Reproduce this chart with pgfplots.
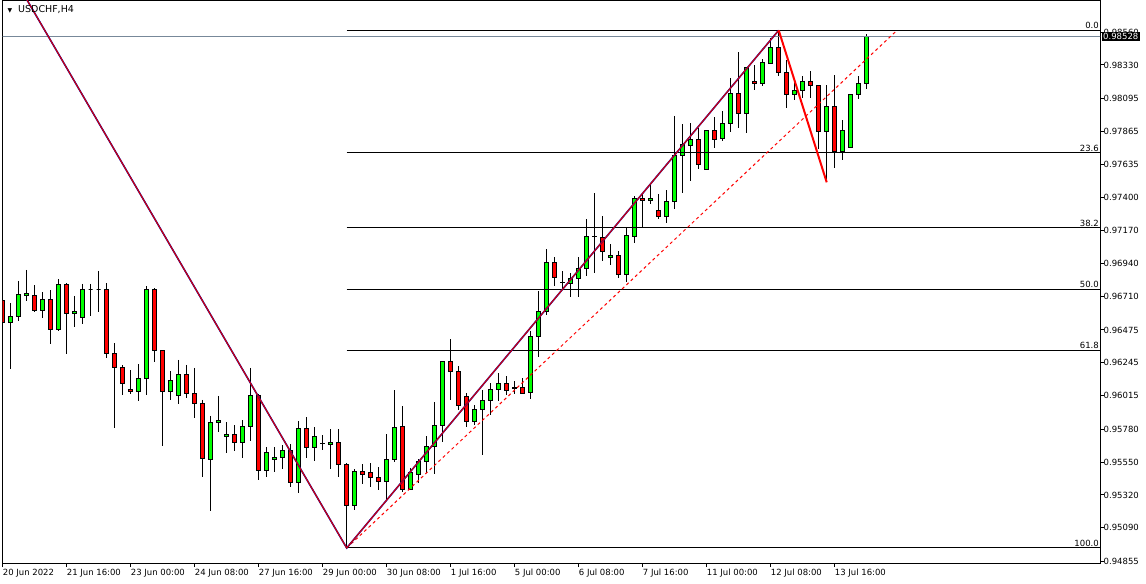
\documentclass[border=0pt]{standalone}
\usepackage{fontspec}
\setmainfont{DejaVu Sans}
\usepackage{pgfplots}
\pgfplotsset{compat=1.18}
\usepackage{pgfplotstable}
\definecolor{cgreen}{RGB}{0,255,0}
\definecolor{cred}{RGB}{255,0,0}
\definecolor{bidgrey}{RGB}{119,136,153}
\definecolor{zzblue}{RGB}{0,0,170}
\definecolor{zzred}{RGB}{220,0,0}
\newcommand\tf{\fontsize{8.5bp}{10bp}\selectfont}

\pgfplotstableread{
k o h l c
0 0.96683 0.96720 0.96421 0.96529
1 0.96529 0.96664 0.96204 0.96571
2 0.96571 0.96818 0.96540 0.96725
3 0.96715 0.96895 0.96680 0.96732
4 0.96718 0.96788 0.96603 0.96613
5 0.96613 0.96739 0.96561 0.96690
6 0.96690 0.96753 0.96379 0.96480
7 0.96480 0.96830 0.96470 0.96795
8 0.96795 0.96802 0.96309 0.96592
9 0.96592 0.96713 0.96498 0.96606
10 0.96564 0.96797 0.96515 0.96760
11 0.96760 0.96797 0.96571 0.96760
12 0.96760 0.96888 0.96603 0.96760
13 0.96760 0.96802 0.96281 0.96312
14 0.96312 0.96382 0.95791 0.96214
15 0.96214 0.96228 0.96018 0.96102
16 0.96060 0.96193 0.96025 0.96046
17 0.96046 0.96235 0.95976 0.96137
18 0.96137 0.96781 0.96022 0.96760
19 0.96760 0.96767 0.96253 0.96333
20 0.96333 0.96333 0.95665 0.96046
21 0.96046 0.96186 0.95983 0.96123
22 0.96013 0.96265 0.95955 0.96165
23 0.96165 0.96230 0.95997 0.96032
24 0.96032 0.96209 0.95857 0.95962
25 0.95962 0.95985 0.95448 0.95577
26 0.95570 0.95873 0.95210 0.95829
27 0.95829 0.96013 0.95763 0.95843
28 0.95731 0.95829 0.95616 0.95745
29 0.95745 0.95808 0.95630 0.95689
30 0.95689 0.95843 0.95581 0.95801
31 0.95801 0.96209 0.95700 0.96018
32 0.96018 0.96025 0.95423 0.95493
33 0.95493 0.95654 0.95448 0.95619
34 0.95570 0.95654 0.95483 0.95584
35 0.95584 0.95668 0.95504 0.95633
36 0.95633 0.95675 0.95374 0.95409
37 0.95409 0.95836 0.95332 0.95787
38 0.95787 0.95864 0.95577 0.95654
39 0.95654 0.95794 0.95556 0.95731
40 0.95682 0.95738 0.95633 0.95683
41 0.95675 0.95780 0.95500 0.95689
42 0.95689 0.95780 0.95448 0.95535
43 0.95535 0.95542 0.94949 0.95248
44 0.95248 0.95500 0.95215 0.95486
45 0.95486 0.95535 0.95399 0.95465
46 0.95479 0.95542 0.95374 0.95444
47 0.95444 0.95514 0.95357 0.95416
48 0.95416 0.95745 0.95285 0.95570
49 0.95570 0.96053 0.95549 0.95794
50 0.95801 0.95941 0.95339 0.95360
51 0.95360 0.95507 0.95353 0.95479
52 0.95465 0.95570 0.95406 0.95556
53 0.95556 0.95731 0.95472 0.95661
54 0.95661 0.95969 0.95465 0.95808
55 0.95808 0.96256 0.95689 0.96256
56 0.96256 0.96410 0.95987 0.96186
57 0.96186 0.96221 0.95913 0.95948
58 0.96011 0.96032 0.95798 0.95836
59 0.95836 0.95948 0.95808 0.95920
60 0.95920 0.96053 0.95598 0.95983
61 0.95983 0.96102 0.95878 0.96060
62 0.96060 0.96172 0.95976 0.96102
63 0.96102 0.96151 0.96018 0.96053
64 0.96074 0.96116 0.96025 0.96067
65 0.96074 0.96137 0.96025 0.96032
66 0.96039 0.96468 0.95992 0.96431
67 0.96431 0.96748 0.96288 0.96606
68 0.96606 0.97040 0.96578 0.96949
69 0.96949 0.96984 0.96785 0.96844
70 0.96809 0.96886 0.96753 0.96804
71 0.96802 0.96872 0.96704 0.96837
72 0.96837 0.96984 0.96704 0.96907
73 0.96907 0.97250 0.96855 0.97131
74 0.97128 0.97432 0.96872 0.97131
75 0.97124 0.97271 0.96960 0.97026
76 0.96984 0.97075 0.96928 0.96998
77 0.96998 0.97026 0.96837 0.96865
78 0.96865 0.97194 0.96809 0.97138
79 0.97131 0.97411 0.97082 0.97397
80 0.97397 0.97425 0.97187 0.97383
81 0.97383 0.97488 0.97355 0.97397
82 0.97313 0.97425 0.97250 0.97271
83 0.97271 0.97453 0.97222 0.97376
84 0.97376 0.97973 0.97320 0.97698
85 0.97698 0.97915 0.97432 0.97775
86 0.97768 0.97922 0.97516 0.97810
87 0.97810 0.97887 0.97600 0.97635
88 0.97600 0.97873 0.97593 0.97873
89 0.97873 0.97964 0.97747 0.97810
90 0.97817 0.98006 0.97796 0.97922
91 0.97922 0.98237 0.97863 0.98132
92 0.98132 0.98419 0.97891 0.97992
93 0.97992 0.98314 0.97856 0.98314
94 0.98216 0.98328 0.98153 0.98202
95 0.98202 0.98370 0.98181 0.98349
96 0.98342 0.98517 0.98342 0.98454
97 0.98454 0.98573 0.98251 0.98279
98 0.98279 0.98363 0.98027 0.98125
99 0.98125 0.98237 0.98083 0.98153
100 0.98153 0.98251 0.98097 0.98216
101 0.98216 0.98286 0.98097 0.98188
102 0.98188 0.98188 0.97740 0.97866
103 0.97866 0.98188 0.97509 0.98041
104 0.98041 0.98258 0.97607 0.97726
105 0.97726 0.97943 0.97663 0.97873
106 0.97754 0.98125 0.97754 0.98125
107 0.98125 0.98251 0.98090 0.98202
108 0.98202 0.98545 0.98160 0.98528
}\candles

\begin{document}
\begin{tikzpicture}
\path[use as bounding box] (0,0) rectangle (1146bp,584bp);
\begin{axis}[
  at={(2.5bp,20.5bp)}, anchor=south west,
  scale only axis, width=1097.5bp, height=562.5bp,
  xmin=-0.025, xmax=137.1625, ymin=0.948405, ymax=0.98778,
  axis line style={line width=1bp, black},
  scaled y ticks=false, scaled x ticks=false,
  xtick={0,8,...,104},
  xticklabels={20 Jun 2022, 21 Jun 16:00, 23 Jun 00:00, 24 Jun 08:00, 27 Jun 16:00, 29 Jun 00:00, 30 Jun 08:00, 1 Jul 16:00, 5 Jul 00:00, 6 Jul 08:00, 7 Jul 16:00, 11 Jul 00:00, 12 Jul 08:00, 13 Jul 16:00},
  ytick={0.94855,0.95090,0.95320,0.95550,0.95780,0.96015,0.96245,0.96475,0.96710,0.96940,0.97170,0.97400,0.97635,0.97865,0.98095,0.98330,0.98560},
  yticklabels={0.94855,0.95090,0.95320,0.95550,0.95780,0.96015,0.96245,0.96475,0.96710,0.96940,0.97170,0.97400,0.97635,0.97865,0.98095,0.98330,0.98560},
  tick align=outside, major tick length=3.5bp,
  xtick pos=left, ytick pos=right, yticklabel pos=right,
  tick style={black, line width=1bp},
  xticklabel style={font=\tf, anchor=north west, inner sep=0pt, yshift=-1.5bp},
  yticklabel style={font=\tf, anchor=west, inner sep=0pt},
]
% wicks
\addplot[draw=none, forget plot, error bars/.cd, y dir=minus, y explicit, error mark=none,
  error bar style={draw=black, line width=1bp}]
  table[x=k, y=h, y error expr=\thisrow{h}-\thisrow{l}] {\candles};
% bodies
\pgfplotsforeachungrouped \i in {0,...,108}{%
  \pgfplotstablegetelem{\i}{k}\of\candles\let\myK\pgfplotsretval
  \pgfplotstablegetelem{\i}{o}\of\candles\let\myO\pgfplotsretval
  \pgfplotstablegetelem{\i}{c}\of\candles\let\myC\pgfplotsretval
  \pgfmathsetmacro\myL{\myK-0.25}%
  \pgfmathsetmacro\myR{\myK+0.25}%
  \ifdim\myC pt<\myO pt\def\myCol{cred}\else\def\myCol{cgreen}\fi
  \edef\tmp{\noexpand\addplot[draw=black, line width=1bp, fill=\myCol, forget plot] coordinates {(\myL,\myO) (\myR,\myO) (\myR,\myC) (\myL,\myC)} -- cycle;}%
  \tmp
}
% fibonacci levels
\addplot[black, line width=1bp] coordinates {(43,0.98573) (137.2,0.98573)};
\addplot[black, line width=1bp] coordinates {(43,0.97718) (137.2,0.97718)};
\addplot[black, line width=1bp] coordinates {(43,0.97189) (137.2,0.97189)};
\addplot[black, line width=1bp] coordinates {(43,0.96761) (137.2,0.96761)};
\addplot[black, line width=1bp] coordinates {(43,0.96333) (137.2,0.96333)};
\addplot[black, line width=1bp] coordinates {(43,0.94949) (137.2,0.94949)};
\node[anchor=south east, font=\tf, inner sep=1bp] at (axis cs:137.1625,0.98573) {0.0};
\node[anchor=south east, font=\tf, inner sep=1bp] at (axis cs:137.1625,0.97718) {23.6};
\node[anchor=south east, font=\tf, inner sep=1bp] at (axis cs:137.1625,0.97189) {38.2};
\node[anchor=south east, font=\tf, inner sep=1bp] at (axis cs:137.1625,0.96761) {50.0};
\node[anchor=south east, font=\tf, inner sep=1bp] at (axis cs:137.1625,0.96333) {61.8};
\node[anchor=south east, font=\tf, inner sep=1bp] at (axis cs:137.1625,0.94949) {100.0};
% bid line
\addplot[bidgrey, line width=1bp] coordinates {(-1,0.98528) (138,0.98528)};
% fib diagonal
\addplot[cred, line width=1bp, dash pattern=on 3bp off 3bp] coordinates {(43,0.94949) (111.8,0.98573)};
% zigzag
\addplot[zzblue, line width=1.6bp] coordinates {(3.0,0.98789) (43,0.94949) (97,0.98573)};
\addplot[zzred, line width=1bp] coordinates {(3.0,0.98789) (43,0.94949) (97,0.98573)};
\addplot[cred, line width=2bp] coordinates {(97,0.98573) (103,0.97509)};
\coordinate (bidR) at (axis cs:137.1625,0.98528);
\end{axis}
\node[fill=black, text=white, font=\tf, inner xsep=1.5bp, inner ysep=1.5bp, anchor=west, xshift=1.5bp] at (bidR) {0.98528};
\node[anchor=west, font=\fontsize{9.5bp}{11bp}\selectfont, inner sep=0pt] at (18bp,574bp) {USDCHF,H4};
\node[font=\fontsize{6bp}{6bp}\selectfont, inner sep=0pt] at (10bp,573.5bp) {▼};
\end{tikzpicture}
\end{document}
